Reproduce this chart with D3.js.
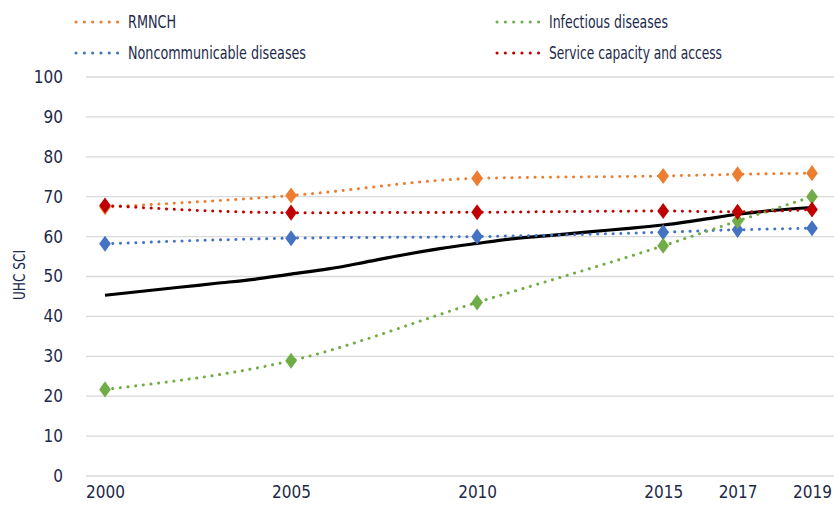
<!DOCTYPE html>
<html>
<head>
<meta charset="utf-8">
<script src="https://cdn.jsdelivr.net/npm/d3@7"></script>
<style>
  body { margin: 0; background: #fff; }
  text { font-family: "Liberation Sans Narrow", "DejaVu Sans Condensed", sans-serif; fill: #1c2a4a; }
</style>
</head>
<body>
<div id="chart-area"></div>
<script>
// chart data
let years = [2000, 2005, 2010, 2015, 2017, 2019];
let tickYears = [2000, 2005, 2010, 2015, 2017, 2019];
let yTicks = [0, 10, 20, 30, 40, 50, 60, 70, 80, 90, 100];

let rmnch = [67.4, 70.3, 74.6, 75.2, 75.6, 75.9];
let ncd = [58.2, 59.6, 60.0, 61.1, 61.7, 62.1];
let infectious = [21.7, 28.9, 43.5, 57.7, 63.9, 70.0];
let capacity = [67.8, 66.0, 66.1, 66.4, 66.2, 66.8];

let uhcYears = [2000, 2001, 2002, 2003, 2004, 2005, 2006, 2007, 2008, 2009,
  2010, 2011, 2012, 2013, 2014, 2015, 2016, 2017, 2018, 2019];
let uhcValues = [45.3, 46.3, 47.3, 48.3, 49.3, 50.6, 51.9, 53.6, 55.4, 57.0,
  58.3, 59.5, 60.3, 61.2, 62.0, 62.9, 64.2, 65.6, 66.6, 67.3];

let series = [
  { name: "RMNCH", values: rmnch, color: "#ed7d31", w: 48 },
  { name: "Noncommunicable diseases", values: ncd, color: "#4472c4", w: 178 },
  { name: "Infectious diseases", values: infectious, color: "#70ad47", w: 119 },
  { name: "Service capacity and access", values: capacity, color: "#c00000", w: 173 }
];

let W = 834, H = 507;

let svg = d3.select("#chart-area")
  .append("svg")
  .attr("width", W)
  .attr("height", H);

let x = d3.scaleLinear().domain([2000, 2019]).range([105, 812]);
let y = d3.scaleLinear().domain([0, 100]).range([476, 77]);

// gridlines
svg.append("g")
  .selectAll("line")
  .data(yTicks)
  .enter()
  .append("line")
  .attr("x1", 86)
  .attr("x2", W)
  .attr("y1", d => y(d))
  .attr("y2", d => y(d))
  .attr("stroke", "#d9d9d9")
  .attr("stroke-width", 1.3);

// y axis labels
let yAxis = d3.axisLeft(y).tickValues(yTicks).tickSize(0).tickPadding(0);
let gy = svg.append("g")
  .attr("transform", "translate(63,0)")
  .call(yAxis);
gy.select(".domain").remove();
gy.selectAll("text")
  .style("font-size", "17px")
  .attr("fill", "#1c2a4a");

// x axis labels
let xAxis = d3.axisBottom(x).tickValues(tickYears).tickFormat(d3.format("d")).tickSize(0).tickPadding(0);
let gx = svg.append("g")
  .attr("transform", "translate(0,486)")
  .call(xAxis);
gx.select(".domain").remove();
gx.selectAll("text")
  .style("font-size", "17px")
  .attr("fill", "#1c2a4a");

// y label
svg.append("text")
  .text("UHC SCI")
  .attr("transform", "translate(25,275) rotate(-90)")
  .attr("text-anchor", "middle")
  .attr("textLength", 50)
  .attr("lengthAdjust", "spacingAndGlyphs")
  .style("font-size", "16px");

// overall UHC line
let uhcLine = d3.line()
  .x((d, i) => x(uhcYears[i]))
  .y(d => y(d))
  .curve(d3.curveMonotoneX);

svg.append("path")
  .datum(uhcValues)
  .attr("d", uhcLine)
  .attr("fill", "none")
  .attr("stroke", "#000")
  .attr("stroke-width", 3.2);

// dotted series
let line = d3.line()
  .x((d, i) => x(years[i]))
  .y(d => y(d))
  .curve(d3.curveMonotoneX);

let diamond = d3.symbol().type(d3.symbolDiamond).size(75);

series.forEach(s => {
  svg.append("path")
    .datum(s.values)
    .attr("d", line)
    .attr("fill", "none")
    .attr("stroke", s.color)
    .attr("stroke-width", 3)
    .attr("stroke-linecap", "round")
    .attr("stroke-dasharray", "0.1 7.6");

  svg.append("g")
    .selectAll("path")
    .data(s.values)
    .enter()
    .append("path")
    .attr("d", diamond)
    .attr("transform", (d, i) => "translate(" + x(years[i]) + "," + y(d) + ") scale(1.25,1)")
    .attr("fill", s.color);
});

// legend
let legendPos = [[76, 22], [76, 53], [497, 22], [497, 53]];
series.forEach((s, i) => {
  let p = legendPos[i];
  svg.append("line")
    .attr("x1", p[0])
    .attr("x2", p[0] + 42)
    .attr("y1", p[1])
    .attr("y2", p[1])
    .attr("stroke", s.color)
    .attr("stroke-width", 3)
    .attr("stroke-linecap", "round")
    .attr("stroke-dasharray", "0.1 8.2");
  svg.append("text")
    .text(s.name)
    .attr("x", p[0] + 52)
    .attr("y", p[1])
    .attr("dy", "0.35em")
    .attr("textLength", s.w)
    .attr("lengthAdjust", "spacingAndGlyphs")
    .style("font-size", "18px");
});
</script>
</body>
</html>
